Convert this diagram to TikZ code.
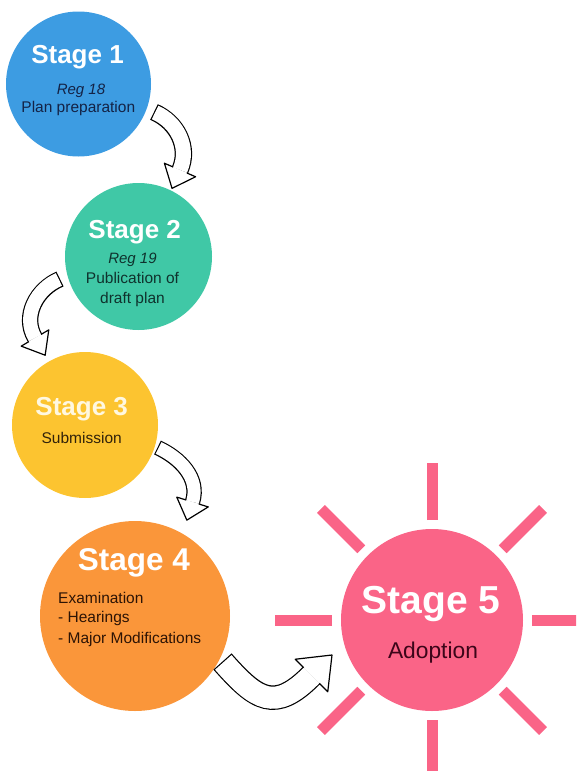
\documentclass[tikz,border=0pt]{standalone}
\usepackage{fontspec}
\setmainfont{Liberation Sans}
\usetikzlibrary{calc}

\definecolor{bluestage}{RGB}{61,156,226}
\definecolor{tealstage}{RGB}{64,200,166}
\definecolor{yellowstage}{RGB}{252,196,48}
\definecolor{orangestage}{RGB}{250,150,58}
\definecolor{pinkstage}{RGB}{250,100,135}
\definecolor{titlecream}{RGB}{255,248,225}
\definecolor{s1txt}{RGB}{20,35,70}
\definecolor{s2txt}{RGB}{15,50,45}
\definecolor{s3txt}{RGB}{50,35,10}
\definecolor{s4txt}{RGB}{45,20,5}
\definecolor{s5txt}{RGB}{60,5,25}

\tikzset{
  stage/.style={circle, inner sep=0pt, minimum size=#1},
  title/.style={text=white, font=\bfseries\fontsize{26}{30}\selectfont, anchor=base},
  sub/.style={font=\fontsize{15.5}{20}\selectfont, anchor=base},
  reg/.style={font=\itshape\fontsize{15}{20}\selectfont, anchor=base},
  ray/.style={line width=11pt, draw=pinkstage},
}

% hollow curved arrow: tail, control 1, control 2, head base, half width, half head width, head length
\newcommand{\blockarrow}[7]{%
  \draw[line width=2*#5+2.4pt] (#1) .. controls (#2) and (#3) .. (#4);
  \draw[line width=2*#5, white, shorten <=1.2pt] (#1) .. controls (#2) and (#3) .. (#4);
  \filldraw[fill=white, line width=1.2pt, line join=round]
    ($(#4)!#5!90:(#3)$) -- ($(#4)!#6!90:(#3)$) -- ($(#4)!-#7!(#3)$)
    -- ($(#4)!#6!-90:(#3)$) -- ($(#4)!#5!-90:(#3)$);
}

\begin{document}
\begin{tikzpicture}[x=1pt, y=-1pt]
    \useasboundingbox (0,0) rectangle (576,771);
    \clip (0,0) rectangle (576,771);

    % stages
    \node[stage=145pt, fill=bluestage] (s1) at (78.5,84) {};
    \node[stage=147pt, fill=tealstage] (s2) at (138.5,256.5) {};
    \node[stage=146pt, fill=yellowstage] (s3) at (85,425) {};
    \node[stage=190pt, fill=orangestage] (s4) at (135,616) {};
    \node[stage=182pt, fill=pinkstage] (s5) at (432,620) {};

    % sun rays
    \foreach \a in {0,45,...,315}
        \draw[ray] ($(s5)+(\a:100)$) -- ($(s5)+(\a:157)$);

    \node[title] (s1t) at (77.5,63) {Stage 1};
    \node[reg, text=s1txt] (s1r) at (81,94) {Reg 18};
    \node[sub, text=s1txt] (s1d) at (78.3,112) {Plan preparation};

    \node[title] (s2t) at (134.7,238) {Stage 2};
    \node[reg, text=s2txt] (s2r) at (132.5,263.3) {Reg 19};
    \node[sub, text=s2txt] (s2d1) at (132.5,283.3) {Publication of};
    \node[sub, text=s2txt] (s2d2) at (132.5,303.3) {draft plan};

    \node[title, text=titlecream] (s3t) at (81.7,415) {Stage 3};
    \node[sub, text=s3txt] (s3d) at (81.7,443.3) {Submission};

    \node[title, font=\bfseries\fontsize{31.5}{36}\selectfont] (s4t) at (134,570) {Stage 4};
    \node[sub, anchor=base west, inner sep=0pt, text=s4txt] (s4d1) at (58,603.3) {Examination};
    \node[sub, anchor=base west, inner sep=0pt, text=s4txt] (s4d2) at (58,622.5) {- Hearings};
    \node[sub, anchor=base west, inner sep=0pt, text=s4txt] (s4d3) at (58,643) {- Major Modifications};

    \node[title, font=\bfseries\fontsize{39}{44}\selectfont] (s5t) at (431,613.3) {Stage 5};
    \node[sub, font=\fontsize{22.8}{27}\selectfont, text=s5txt] (s5d) at (433,658.3) {Adoption};

    % arrows
    \coordinate (a1t) at (154,112);
    \coordinate (a1b) at (177,122);
    \coordinate (a1c) at (190,147);
    \coordinate (a1h) at (180,170);
    \blockarrow{a1t}{a1b}{a1c}{a1h}{7.5pt}{17pt}{20pt}

    \coordinate (a2t) at (60,279);
    \coordinate (a2b) at (36.5,289);
    \coordinate (a2c) at (22,316);
    \coordinate (a2h) at (35,338);
    \blockarrow{a2t}{a2b}{a2c}{a2h}{7pt}{16pt}{20pt}

    \coordinate (a3t) at (157.5,447.5);
    \coordinate (a3b) at (180,458);
    \coordinate (a3c) at (200,478);
    \coordinate (a3h) at (192.5,502);
    \blockarrow{a3t}{a3b}{a3c}{a3h}{6.5pt}{16.5pt}{19pt}

    \coordinate (a4t) at (222.5,661.5);
    \coordinate (a4b) at (256.9,700.4);
    \coordinate (a4c) at (274.7,712.3);
    \coordinate (a4h) at (311.5,675.5);
    \blockarrow{a4t}{a4b}{a4c}{a4h}{11pt}{23pt}{29pt}
\end{tikzpicture}
\end{document}
